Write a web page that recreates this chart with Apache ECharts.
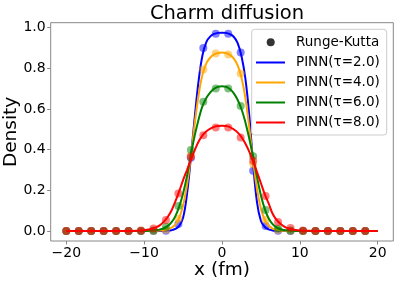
<!DOCTYPE html>
<html><head><meta charset="utf-8">
<script src="https://cdn.jsdelivr.net/npm/echarts@6/dist/echarts.min.js"></script>
<style>html,body{margin:0;padding:0;background:#fff}#c{width:397px;height:283px}</style>
</head><body><div id="c"></div>
<script>
// ---- data ----
const lineX = [-20,-12,-11,-10,-9.5,-9,-8.5,-8,-7.5,-7,-6.5,-6,-5.5,-5,-4.5,-4,-3.5,-3,-2.5,-2,-1.5,-1,-0.5,0,0.5,1,1.5,2,2.5,3,3.5,4,4.5,5,5.5,6,6.5,7,7.5,8,8.5,9,9.5,10,11,12,20];
const pinn2 = [0,0,0,0,0,0,0,0,0.001,0.002,0.004,0.01,0.025,0.065,0.18,0.36,0.56,0.74,0.865,0.93,0.957,0.969,0.974,0.975,0.974,0.968,0.955,0.925,0.86,0.75,0.57,0.33,0.14,0.05,0.02,0.008,0.003,0.001,0,0,0,0,0,0,0,0,0];
const pinn4 = [0,0,0,0,0,0,0.001,0.002,0.004,0.008,0.016,0.032,0.065,0.125,0.225,0.365,0.53,0.67,0.77,0.825,0.853,0.868,0.875,0.877,0.875,0.866,0.849,0.815,0.755,0.655,0.51,0.345,0.205,0.11,0.055,0.026,0.012,0.006,0.003,0.001,0,0,0,0,0,0,0];
const pinn6 = [0,0,0,0,0.001,0.002,0.004,0.007,0.013,0.024,0.042,0.072,0.12,0.185,0.27,0.375,0.47,0.55,0.615,0.655,0.682,0.7,0.709,0.712,0.709,0.698,0.678,0.645,0.6,0.535,0.455,0.365,0.265,0.175,0.108,0.062,0.034,0.018,0.009,0.005,0.003,0.001,0,0,0,0,0];
const pinn8 = [0,0,0.001,0.004,0.007,0.011,0.018,0.028,0.045,0.068,0.1,0.145,0.195,0.25,0.3,0.35,0.398,0.44,0.47,0.49,0.503,0.512,0.516,0.517,0.516,0.511,0.5,0.485,0.462,0.43,0.39,0.342,0.29,0.235,0.18,0.135,0.085,0.055,0.036,0.022,0.013,0.008,0.005,0.003,0.001,0,0];
const ptsX = [-20,-18.4,-16.8,-15.2,-13.6,-12,-10.4,-8.8,-7.2,-5.6,-4,-2.4,-0.8,0.8,2.4,4,5.6,7.2,8.8,10.4,12,13.6,15.2,16.8,18.4];
const rk2 = [0,0,0,0,0,0,0,0,0.001,0.034,0.36,0.90,0.97,0.97,0.877,0.296,0.025,0.001,0,0,0,0,0,0,0];
const rk4 = [0,0,0,0,0,0,0,0.001,0.006,0.06,0.37,0.794,0.872,0.868,0.774,0.33,0.055,0.005,0.001,0,0,0,0,0,0];
const rk6 = [0,0,0,0,0,0,0,0.003,0.021,0.123,0.398,0.635,0.70,0.70,0.614,0.368,0.103,0.012,0.002,0,0,0,0,0,0];
const rk8 = [0,0,0,0,0,0,0.002,0.013,0.054,0.185,0.365,0.471,0.509,0.509,0.46,0.345,0.172,0.044,0.015,0.003,0,0,0,0,0];
const xTicks = [-20,-10,0,10,20];
const yTicks = [0,0.2,0.4,0.6,0.8,1.0];
const names = ['PINN(τ=2.0)','PINN(τ=4.0)','PINN(τ=6.0)','PINN(τ=8.0)'];
const colors = ['#0000ff','#ffa500','#008000','#ff0000'];
// ---- chart ----
const F = 'DejaVu Sans';
const zip = (xs, ys) => xs.map((x,i)=>[x, ys[i]]);
const lines = [pinn2,pinn4,pinn6,pinn8];
const pts = [rk2,rk4,rk6,rk8];
const series = [{name:'Runge-Kutta', type:'scatter', data:[], itemStyle:{color:'#000'}}];
for (let i=0;i<4;i++){
  series.push({name:'rk'+i, type:'scatter', data:zip(ptsX, pts[i]), symbolSize:8,
    itemStyle:{color:colors[i], opacity:0.5}, z:2+i*2, silent:true});
  series.push({name:names[i], type:'line', data:zip(lineX, lines[i]), symbol:'none',
    smooth:0.4, lineStyle:{color:colors[i], width:2}, itemStyle:{color:colors[i]}, z:3+i*2, silent:true});
}
const minus = v => (v<0 ? '\u2212'+Math.abs(v) : ''+v);
const chart = echarts.init(document.getElementById('c'), null, {renderer:'canvas'});
const legText = {fontFamily:F, fontSize:13.5, color:'#000', lineHeight:14};
chart.setOption({
  animation:false,
  backgroundColor:'#fff',
  title:{text:'Charm diffusion', left:222, top:-1, textAlign:'center',
    textStyle:{fontFamily:F, fontSize:19.5, fontWeight:'normal', color:'#000'}},
  grid:{left:50.7, right:3.7, top:22.7, bottom:42, outerBoundsMode:'none', containLabel:false,
    show:true, borderColor:'#888', borderWidth:1, backgroundColor:'transparent'},
  xAxis:{type:'value', min:-22, max:22, name:'x (fm)', nameLocation:'middle', nameGap:20, nameMoveOverlap:false,
    nameTextStyle:{fontFamily:F, fontSize:18.5, color:'#000'},
    axisLine:{show:false, onZero:false}, splitLine:{show:false},
    axisTick:{show:true, length:3.5, customValues:xTicks, lineStyle:{color:'#888'}},
    axisLabel:{customValues:xTicks, formatter:minus, margin:5, fontFamily:F, fontSize:14, color:'#000'}},
  yAxis:{type:'value', min:-0.049, max:1.024, name:'Density', nameLocation:'middle', nameGap:30, nameMoveOverlap:false,
    nameTextStyle:{fontFamily:F, fontSize:18.5, color:'#000'},
    axisLine:{show:false, onZero:false}, splitLine:{show:false},
    axisTick:{show:true, length:3.5, customValues:yTicks, lineStyle:{color:'#888'}},
    axisLabel:{customValues:yTicks, formatter:v=>v.toFixed(1), margin:5, fontFamily:F, fontSize:14, color:'#000'}},
  legend:[
    {data:[{name:'Runge-Kutta', icon:'circle'}], orient:'vertical', left:266.7, top:35.2, padding:0,
      itemWidth:8, itemHeight:8, itemGap:6, selectedMode:false, z:20,
      textStyle:Object.assign({padding:[0,0,0,16.3]}, legText)},
    {data:names.map(n=>({name:n, icon:'path://M0 0H29V2H0Z'})), orient:'vertical', left:256, top:55.5, padding:0,
      itemWidth:29, itemHeight:2, itemGap:6, selectedMode:false, z:20,
      textStyle:Object.assign({padding:[0,0,0,6]}, legText)}
  ],
  graphic:[{type:'rect', z:15, shape:{x:251.7, y:29.3, width:135, height:105.7, r:3},
    style:{fill:'rgba(255,255,255,0.8)', stroke:'#cccccc', lineWidth:1}}],
  series:series
});
</script></body></html>
